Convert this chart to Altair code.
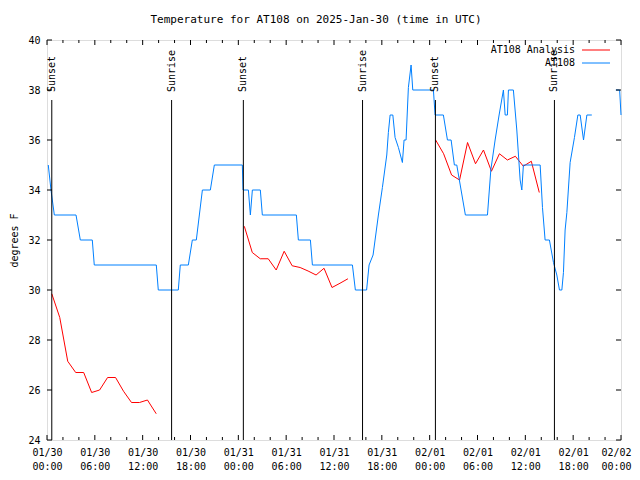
import altair as alt
import pandas as pd

W, H = 574, 400
FONT = "DejaVu Sans Mono"

# ---- data (hours since 2025-01-30 00:00 UTC, degrees F) ----
blue_a_hours = [0.16, 0.5, 0.92, 3.64, 4.18, 5.68, 5.93, 13.71, 13.96, 16.47,
                16.72, 17.73, 18.23, 18.73, 19.49, 20.49, 20.99, 24.5, 24.59, 25.26,
                25.51, 25.76, 26.76, 27.01, 31.28, 31.53, 33.04, 33.29, 38.31, 38.68,
                40.09, 40.4, 40.9, 41.57, 42.07, 42.62, 42.82, 43.04, 43.38, 43.66,
                44.08, 44.58, 44.79, 45.04, 45.33, 45.67, 45.88, 48.47, 48.68, 49.72,
                50.23, 50.69, 51.1, 51.4, 52.48, 55.25, 55.67, 56.21, 56.71, 57.25,
                57.47, 57.75, 57.88, 58.5, 58.93, 59.35, 59.56, 59.76, 61.86, 62.15,
                62.48, 63.02, 63.53, 63.95, 64.28, 64.58, 64.78, 64.99, 65.21, 65.62,
                66.16, 66.59, 66.88, 67.3, 67.72, 68.34]
blue_a_temps = [35, 34, 33, 33, 32, 32, 31, 31, 30, 30,
                31, 31, 32, 32, 34, 34, 35, 35, 34, 34,
                33, 34, 34, 33, 33, 32, 32, 31, 31, 30,
                30, 31, 31.4, 33, 34.1, 35.4, 36.3, 37, 37, 36.1,
                35.7, 35.1, 36, 36, 38.1, 39, 38, 38, 37, 37,
                36, 36, 35, 35, 33, 33, 34.8, 36, 37, 38,
                37, 37, 38, 38, 36.4, 34.4, 34, 35, 35, 33.3,
                32, 32, 31.1, 30.6, 30, 30, 30.7, 32.4, 33.1, 35.1,
                36.1, 37, 37, 36, 37, 37]
blue_b_hours = [71.35, 71.83, 72.0]
blue_b_temps = [38, 38, 37]

red_a_hours = [0.6, 1.6, 2.6, 3.6, 4.6, 5.6, 6.6, 7.6, 8.6, 9.6, 10.6, 11.6, 12.6, 13.7]
red_a_temps = [29.85, 28.9, 27.15, 26.7, 26.7, 25.9, 26.0, 26.5, 26.5, 25.95, 25.5, 25.5, 25.6, 25.05]
red_b_hours = [24.75, 25.75, 26.75, 27.75, 28.75, 29.75, 30.75, 31.75, 32.75, 33.75, 34.75, 35.75, 36.75, 37.75]
red_b_temps = [32.55, 31.5, 31.25, 31.25, 30.8, 31.55, 30.97, 30.9, 30.76, 30.6, 30.87, 30.1, 30.27, 30.45]
red_c_hours = [48.75, 49.75, 50.75, 51.75, 52.75, 53.75, 54.75, 55.75, 56.75, 57.75, 58.75, 59.75, 60.75, 61.75]
red_c_temps = [36.0, 35.45, 34.6, 34.4, 35.9, 35.05, 35.6, 34.75, 35.45, 35.2, 35.35, 34.95, 35.15, 33.9]

sunset_hours = [0.6, 24.63, 48.72]
sunrise_hours = [15.63, 39.58, 63.65]

series_names = ["AT108 Analysis", "AT108"]
series_colors = ["#ff0000", "#0080ff"]

x_major = list(range(0, 73, 6))
x_minor = [h for h in range(0, 73, 2) if h % 6 != 0]
y_ticks = list(range(24, 41, 2))

# ---- tables ----
rows = []
for seg, (hs, ts) in enumerate([(red_a_hours, red_a_temps), (red_b_hours, red_b_temps), (red_c_hours, red_c_temps)]):
    for h, t in zip(hs, ts):
        rows.append({"hour": h, "temp": t, "series": series_names[0], "seg": f"r{seg}"})
for seg, (hs, ts) in enumerate([(blue_a_hours, blue_a_temps), (blue_b_hours, blue_b_temps)]):
    for h, t in zip(hs, ts):
        rows.append({"hour": h, "temp": t, "series": series_names[1], "seg": f"b{seg}"})
df = pd.DataFrame(rows)

sun = pd.DataFrame({"hour": sunset_hours + sunrise_hours,
                    "label": ["Sunset"] * len(sunset_hours) + ["Sunrise"] * len(sunrise_hours)})
xmaj = pd.DataFrame({"hour": x_major})
xmin = pd.DataFrame({"hour": x_minor})
yt = pd.DataFrame({"temp": y_ticks})

xscale = alt.Scale(domain=[0, 72], nice=False, zero=False)
yscale = alt.Scale(domain=[24, 40], nice=False, zero=False)

label_expr = ("[utcFormat(utc(2025,0,30,datum.value),'%m/%d'), "
              "utcFormat(utc(2025,0,30,datum.value),'%H:%M')]")

x_axis = alt.Axis(
    values=x_major, labelExpr=label_expr, ticks=False, tickSize=0, domain=False, grid=False,
    labelFont=FONT, labelFontSize=10, labelColor="black", labelPadding=7,
    labelBaseline="top", labelLineHeight=14, labelFlush=False, labelOverlap=False,
    labelOffset={"condition": {"test": "datum.value >= 72", "value": -5}, "value": 0},
    title=None)
y_axis = alt.Axis(
    values=y_ticks, ticks=False, tickSize=0, domain=False, grid=False,
    labelFont=FONT, labelFontSize=10, labelColor="black", labelPadding=7,
    title="degrees F", titleFont=FONT, titleFontSize=10, titleFontWeight="normal",
    titleColor="black", titleX=-33, titleY=200, titleAngle=270,
    titleAlign="center", titleBaseline="middle")

xs = alt.X("hour:Q", scale=xscale, axis=x_axis)
ys = alt.Y("temp:Q", scale=yscale, axis=y_axis)

lines = alt.Chart(df).mark_line(strokeWidth=1).encode(
    x=xs, y=ys,
    color=alt.Color("series:N", scale=alt.Scale(domain=series_names, range=series_colors), legend=None),
    detail="seg:N",
    order=alt.Order("hour:Q"),
)

sun_rules = alt.Chart(sun).mark_rule(color="black", strokeWidth=1).encode(
    x=xs, y=alt.value(60), y2=alt.value(H))
sun_text = alt.Chart(sun).mark_text(angle=270, align="left", baseline="middle",
                                    font=FONT, fontSize=10, color="black").encode(
    x=xs, y=alt.value(52), text="label:N")

xt_major_b = alt.Chart(xmaj).mark_rule(color="black").encode(x=xs, y=alt.value(H), y2=alt.value(H - 5))
xt_major_t = alt.Chart(xmaj).mark_rule(color="black").encode(x=xs, y=alt.value(0), y2=alt.value(5))
xt_minor_b = alt.Chart(xmin).mark_rule(color="black").encode(x=xs, y=alt.value(H), y2=alt.value(H - 3))
xt_minor_t = alt.Chart(xmin).mark_rule(color="black").encode(x=xs, y=alt.value(0), y2=alt.value(3))
yt_l = alt.Chart(yt).mark_rule(color="black").encode(y=ys, x=alt.value(0), x2=alt.value(5))
yt_r = alt.Chart(yt).mark_rule(color="black").encode(y=ys, x=alt.value(W - 5), x2=alt.value(W))

legend_layers = []
for i, (name, col) in enumerate(zip(series_names, series_colors)):
    ly = 10 + 13 * i
    legend_layers.append(
        alt.Chart(pd.DataFrame({"label": [name]})).mark_text(
            align="right", baseline="middle", font=FONT, fontSize=10, color="black").encode(
            x=alt.value(528), y=alt.value(ly), text="label:N"))
    legend_layers.append(
        alt.Chart(pd.DataFrame({"label": [name]})).mark_rule(color=col, strokeWidth=1).encode(
            x=alt.value(535), x2=alt.value(563), y=alt.value(ly)))

chart = alt.layer(
    lines, sun_rules, sun_text, xt_major_b, xt_major_t, xt_minor_b, xt_minor_t, yt_l, yt_r,
    *legend_layers
).properties(
    width=W, height=H,
    title=alt.TitleParams("Temperature for AT108 on 2025-Jan-30 (time in UTC)",
                          font=FONT, fontSize=11, fontWeight="normal", color="black",
                          anchor="middle", dx=-18, offset=10),
    padding={"left": 39, "top": 32, "right": 11, "bottom": 32},
    autosize=alt.AutoSizeParams(type="none"),
).configure_view(stroke="black", strokeWidth=1).configure(background="white")

chart.save("out.html", embed_options={"renderer": "svg", "actions": False})
